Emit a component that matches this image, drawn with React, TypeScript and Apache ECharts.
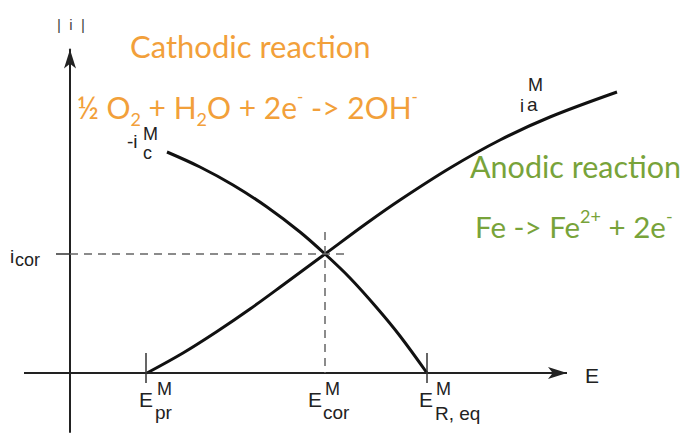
import React, { useEffect, useRef } from 'react';
import * as echarts from 'echarts';

// Anodic branch |i_a| vs E (arbitrary units)
const anodicE = [7.7, 11.3, 14.7, 18.0, 21.3, 25.5, 29.7, 33.0, 38.0, 43.0, 48.0, 54.7];
const anodicI = [0, 2.0, 4.15, 6.4, 8.8, 11.9, 15.0, 17.3, 20.5, 23.3, 25.6, 28.1];
// Cathodic branch |i_c| vs E
const cathodicE = [9.7, 13.0, 16.3, 19.7, 23.0, 25.5, 28.0, 30.7, 33.0, 35.7];
const cathodicI = [22.1, 20.6, 18.8, 16.6, 14.1, 11.9, 9.5, 6.5, 3.7, 0];
// Characteristic potentials and corrosion current
const eTicks = [7.6, 35.7];
const eCor = 25.5;
const iCor = 11.9;
const dashTopI = 14.1;
const dashEndE = 27.7;
// Extent of the drawn E axis
const eAxisStart = -4.6;
const eAxisEnd = 49.7;

const ORANGE = '#F2A03A';
const GREEN = '#78A33A';
const LAB = '"Liberation Sans", Arial, sans-serif';
const HUM = 'Lato, "Open Sans", sans-serif';

function txt(text: string, x: number, y: number, size: number, fill = '#222', family = LAB) {
  return {
    type: 'text',
    x,
    y,
    silent: true,
    style: {
      text,
      fill,
      font: `${size}px ${family}`,
      textAlign: 'left',
      textVerticalAlign: 'middle',
      verticalAlign: 'middle',
    },
  };
}

function rich(text: string, x: number, y: number, size: number, fill: string, supScale = 0.58) {
  const base = { fontFamily: HUM, fill, color: fill };
  return {
    type: 'text',
    x,
    y,
    silent: true,
    style: {
      text,
      fill,
      fontFamily: HUM,
      fontSize: size,
      textAlign: 'left',
      textVerticalAlign: 'middle',
      verticalAlign: 'middle',
      rich: {
        m: { ...base, fontSize: size },
        sub: { ...base, fontSize: Math.round(size * 0.6), padding: [24, 0, 0, 0] },
        sup: { ...base, fontSize: Math.round(size * supScale), padding: [0, 0, 20, 0] },
      },
    },
  };
}

export default function App() {
  const ref = useRef<HTMLDivElement>(null);
  useEffect(() => {
    if (!ref.current) return;
    const chart = echarts.init(ref.current, undefined, { renderer: 'svg' });
    chart.setOption({
      animation: false,
      backgroundColor: '#ffffff',
      grid: { left: 24, right: 45, top: 49.5, bottom: 2 },
      xAxis: {
        type: 'value',
        min: -4.6,
        max: 57,
        axisLine: { show: false },
        axisTick: { show: false },
        axisLabel: { show: false },
        splitLine: { show: false },
      },
      yAxis: {
        type: 'value',
        min: -5.9,
        max: 32.35,
        axisLine: {
          show: true,
          onZero: true,
          symbol: ['none', 'arrow'],
          symbolSize: [9, 19],
          lineStyle: { color: '#222', width: 2 },
        },
        axisTick: { show: false },
        axisLabel: { show: false },
        splitLine: { show: false },
      },
      series: [
        {
          type: 'line',
          data: [],
          silent: true,
          clip: false,
          markLine: {
            silent: true,
            symbol: ['none', 'arrow'],
            symbolSize: [9, 19],
            label: { show: false },
            lineStyle: { color: '#222', width: 2, type: 'solid' },
            data: [[{ coord: [eAxisStart, 0] }, { coord: [eAxisEnd, 0] }]],
          },
        },
        {
          type: 'line',
          data: anodicE.map((e, i) => [e, anodicI[i]]),
          smooth: 0.35,
          symbol: 'none',
          clip: false,
          silent: true,
          lineStyle: { color: '#111', width: 3 },
          markLine: {
            silent: true,
            symbol: ['none', 'none'],
            label: { show: false },
            lineStyle: { color: '#666', width: 1.5, type: [8, 6] },
            data: [
              [{ coord: [0, iCor] }, { coord: [dashEndE, iCor] }],
              [{ coord: [eCor, dashTopI] }, { coord: [eCor, 0] }],
            ],
          },
        },
        {
          type: 'line',
          data: cathodicE.map((e, i) => [e, cathodicI[i]]),
          smooth: 0.35,
          symbol: 'none',
          clip: false,
          silent: true,
          lineStyle: { color: '#111', width: 3 },
          markLine: {
            silent: true,
            symbol: ['none', 'none'],
            label: { show: false },
            lineStyle: { color: '#333', width: 1.5, type: 'solid' },
            data: [
              ...eTicks.map((e) => [{ coord: [e, 2.0] }, { coord: [e, -1.0] }]),
              [{ coord: [-1.4, iCor] }, { coord: [0, iCor] }],
            ],
          },
        },
      ],
      graphic: [
        txt('|  i  |', 57, 24, 15, '#444'),
        txt('E', 585, 375.5, 21),
        // E_pr^M
        txt('E', 139, 399, 21),
        txt('M', 157, 389, 18),
        txt('pr', 155, 412, 19),
        // E_cor^M
        txt('E', 308, 399, 21),
        txt('M', 325, 389, 18),
        txt('cor', 323, 412, 19),
        // E_R,eq^M
        txt('E', 419, 399, 21),
        txt('M', 436, 389, 18),
        txt('R, eq', 435, 413, 19),
        // i_cor
        txt('i', 10, 256.8, 19),
        txt('cor', 15, 259.8, 18),
        // -i_c^M
        txt('-i', 127, 141, 19),
        txt('M', 143, 133.5, 18),
        txt('c', 143, 152.5, 18),
        // i_a^M
        txt('i', 520, 105.8, 18),
        txt('M', 528, 85, 18),
        txt('a', 527, 104.8, 19),
        // reactions
        txt('Cathodic reaction', 130, 46, 31, ORANGE, HUM),
        rich('{m|½ O}{sub|2}{m| + H}{sub|2}{m|O + 2e}{sup|-}{m| -> 2OH}{sup|-}', 77, 106.5, 30, ORANGE),
        txt('Anodic reaction', 470, 166, 30.5, GREEN, HUM),
        rich('{m|Fe -> Fe}{sup|2+}{m| + 2e}{sup|-}', 475, 226, 29.5, GREEN, 0.62),
      ],
    });
    return () => chart.dispose();
  }, []);
  return (
    <div
      ref={ref}
      style={{ position: 'fixed', left: 0, top: 0, width: 685, height: 434, background: '#fff' }}
    />
  );
}
